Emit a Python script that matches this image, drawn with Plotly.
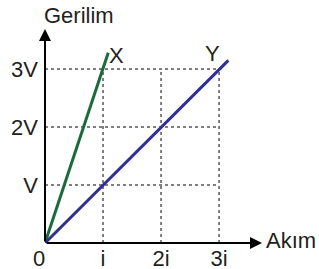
import plotly.graph_objects as go

# data
x_cur = [0, 1.09]
x_volt = [0, 3.28]
y_cur = [0, 3.16]
y_volt = [0, 3.15]
grid_vals = [1, 2, 3]
x_ticks = ["i", "2i", "3i"]
y_ticks = ["V", "2V", "3V"]

GREEN = "#1a6b3c"
BLUE = "#2e3192"
FONT = "Liberation Sans, Arial, sans-serif"

fig = go.Figure()

# dotted grid
for v in grid_vals:
    fig.add_trace(go.Scatter(x=[0, 3], y=[v, v], mode="lines",
                             line=dict(color="black", width=1, dash="dot"),
                             hoverinfo="skip", showlegend=False))
    fig.add_trace(go.Scatter(x=[v, v], y=[0, 3], mode="lines",
                             line=dict(color="black", width=1, dash="dot"),
                             hoverinfo="skip", showlegend=False))

fig.add_trace(go.Scatter(x=x_cur, y=x_volt, mode="lines",
                         line=dict(color=GREEN, width=3), showlegend=False))
fig.add_trace(go.Scatter(x=y_cur, y=y_volt, mode="lines",
                         line=dict(color=BLUE, width=3), showlegend=False))

XMAX = 3.74
YMAX = 3.69

# axis arrows
fig.add_annotation(x=XMAX, y=0, ax=0, ay=0, xref="x", yref="y", axref="x", ayref="y",
                   showarrow=True, arrowhead=2, arrowsize=1.2, arrowwidth=2, arrowcolor="black", text="")
fig.add_annotation(x=0, y=YMAX, ax=0, ay=0, xref="x", yref="y", axref="x", ayref="y",
                   showarrow=True, arrowhead=2, arrowsize=1.2, arrowwidth=2, arrowcolor="black", text="")

tf = dict(family=FONT, size=22, color="#231f20")
c = dict(showarrow=False, font=tf, xanchor="center", yanchor="middle")
fig.add_annotation(x=1.24, y=3.24, text="X", **c)
fig.add_annotation(x=2.88, y=3.26, text="Y", **c)
fig.add_annotation(x=0.157, y=1.061, xref="paper", yref="paper", text="Gerilim", **c)
fig.add_annotation(x=1.132, y=0.01, xref="paper", yref="paper", text="Akım", **c)
fig.add_annotation(x=-0.028, y=-0.072, xref="paper", yref="paper", text="0", **c)

fig.update_xaxes(range=[0, XMAX], tickvals=grid_vals, ticktext=x_ticks,
                 showgrid=False, zeroline=False, showline=False, automargin=False,
                 ticks="", tickfont=tf, ticklabelstandoff=0)
fig.update_yaxes(range=[0, YMAX], tickvals=grid_vals, ticktext=y_ticks,
                 showgrid=False, zeroline=False, showline=False, automargin=False,
                 ticks="", tickfont=tf, ticklabelstandoff=6)

fig.update_layout(width=319, height=269,
                  margin=dict(l=45, r=57, t=29, b=26),
                  plot_bgcolor="white", paper_bgcolor="white")

fig.write_html("out.html", config={"displayModeBar": False},
               post_script="document.body.style.margin='0';document.body.style.overflow='hidden';")
